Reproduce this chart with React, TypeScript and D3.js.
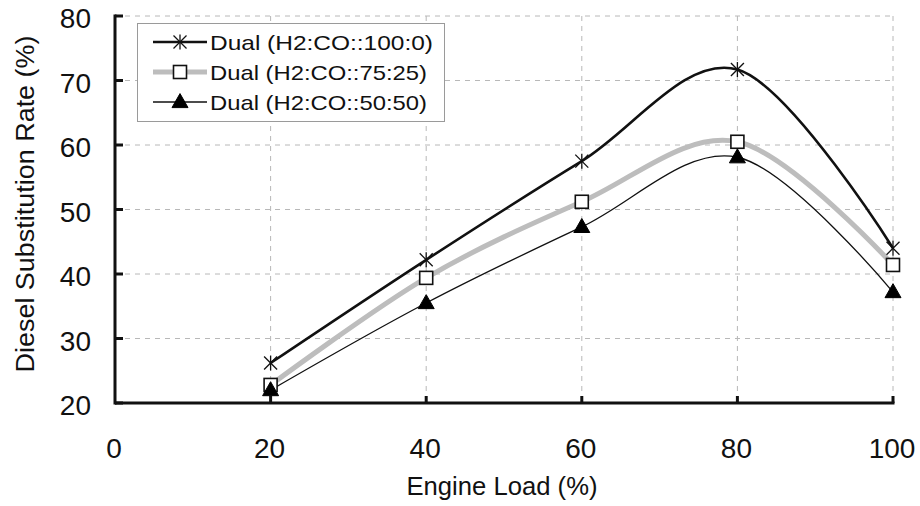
import React from 'react';
import * as d3 from 'd3';

const loads = [20, 40, 60, 80, 100];
const dual100_0 = [26.2, 42.2, 57.5, 71.7, 44.0];
const dual75_25 = [22.8, 39.4, 51.2, 60.5, 41.4];
const dual50_50 = [22.0, 35.5, 47.3, 58.1, 37.2];
const xTicks = [0, 20, 40, 60, 80, 100];
const yTicks = [20, 30, 40, 50, 60, 70, 80];
const seriesNames = ['Dual (H2:CO::100:0)', 'Dual (H2:CO::75:25)', 'Dual (H2:CO::50:50)'];
const xTitle = 'Engine Load (%)';
const yTitle = 'Diesel Substitution Rate (%)';

const W = 920;
const H = 506;
const FONT = "'Liberation Sans', Arial, Helvetica, sans-serif";

type Marker = 'star' | 'square' | 'triangle';

function MarkerShape({ kind, x, y }: { kind: Marker; x: number; y: number }) {
  if (kind === 'star') {
    const r = 6.5;
    return (
      <g stroke="#111" strokeWidth={1.3} fill="none">
        <line x1={x - r} y1={y - r} x2={x + r} y2={y + r} />
        <line x1={x - r} y1={y + r} x2={x + r} y2={y - r} />
        <line x1={x} y1={y - r - 1} x2={x} y2={y + r + 1} />
      </g>
    );
  }
  if (kind === 'square') {
    const s = 13;
    return <rect x={x - s / 2} y={y - s / 2} width={s} height={s} fill="#fff" stroke="#111" strokeWidth={1.6} />;
  }
  const w = 16;
  const h = 14;
  return (
    <path
      d={`M${x},${y - h * 0.6} L${x + w / 2},${y + h * 0.4} L${x - w / 2},${y + h * 0.4} Z`}
      fill="#000"
      stroke="#000"
      strokeWidth={1}
    />
  );
}

export default function App() {
  const x = d3.scaleLinear().domain([0, 100]).range([115, 893]);
  const y = d3.scaleLinear().domain([20, 80]).range([403, 16]);

  const series = [
    { name: seriesNames[0], values: dual100_0, color: '#111', width: 2.6, marker: 'star' as Marker },
    { name: seriesNames[1], values: dual75_25, color: '#bdbdbd', width: 5, marker: 'square' as Marker },
    { name: seriesNames[2], values: dual50_50, color: '#111', width: 1.3, marker: 'triangle' as Marker },
  ];

  const line = d3
    .line<number>()
    .x((_, i) => x(loads[i]))
    .y((d) => y(d))
    .curve(d3.curveCatmullRom.alpha(0));

  const drawOrder = [1, 0, 2];
  const legendTextLen = [223, 217, 217];

  return (
    <svg
      width={W}
      height={H}
      style={{ position: 'absolute', left: 0, top: 0, background: '#fff' }}
      fontFamily={FONT}
    >
      <rect x={0} y={0} width={W} height={H} fill="#fff" />
      {/* gridlines */}
      <g stroke="#b8b8b8" strokeWidth={1} strokeDasharray="5,5">
        {yTicks.slice(1).map((t) => (
          <line key={'gy' + t} x1={x(0)} x2={x(100)} y1={y(t)} y2={y(t)} />
        ))}
        {xTicks.slice(1).map((t) => (
          <line key={'gx' + t} x1={x(t)} x2={x(t)} y1={y(80)} y2={y(20)} />
        ))}
      </g>
      {/* axes */}
      <g stroke="#111" strokeWidth={3} fill="none">
        <line x1={x(0)} x2={x(0)} y1={y(80) - 1.5} y2={y(20) + 1.5} />
        <line x1={x(0)} x2={x(100) + 1.5} y1={y(20)} y2={y(20)} />
        {yTicks.map((t) => (
          <line key={'ty' + t} x1={x(0)} x2={x(0) + 8} y1={y(t)} y2={y(t)} />
        ))}
        {xTicks.slice(1).map((t) => (
          <line key={'tx' + t} x1={x(t)} x2={x(t)} y1={y(20)} y2={y(20) - 7} />
        ))}
      </g>
      {/* tick labels */}
      <g fontSize={28} fill="#111">
        {yTicks.map((t) => (
          <text key={'ly' + t} x={91} y={y(t) + 12} textAnchor="end">
            {t}
          </text>
        ))}
        {xTicks.map((t) => (
          <text key={'lx' + t} x={x(t) - 1} y={458} textAnchor="middle">
            {t}
          </text>
        ))}
      </g>
      {/* axis titles */}
      <text x={502} y={495} fontSize={26} textAnchor="middle" textLength={191} lengthAdjust="spacingAndGlyphs" fill="#111">
        {xTitle}
      </text>
      <text
        transform={`translate(34,204) rotate(-90)`}
        fontSize={26}
        textAnchor="middle"
        textLength={337}
        lengthAdjust="spacingAndGlyphs"
        fill="#111"
      >
        {yTitle}
      </text>
      {/* series lines */}
      {drawOrder.map((si) => {
        const s = series[si];
        return (
          <path key={'s' + si} d={line(s.values) || ''} fill="none" stroke={s.color} strokeWidth={s.width} strokeLinejoin="round" />
        );
      })}
      {/* markers */}
      {drawOrder.map((si) => {
        const s = series[si];
        return (
          <g key={'m' + si}>
            {s.values.map((v, i) => (
              <MarkerShape key={i} kind={s.marker} x={x(loads[i])} y={y(v)} />
            ))}
          </g>
        );
      })}
      {/* legend */}
      <g>
        <rect x={137.5} y={23.5} width={307} height={98} fill="#fff" stroke="#9a9a9a" strokeWidth={1} />
        {series.map((s, i) => {
          const cy = 42 + i * 30;
          return (
            <g key={'lg' + i}>
              <line x1={153} x2={207} y1={cy} y2={cy} stroke={s.color} strokeWidth={s.width} />
              <MarkerShape kind={s.marker} x={180} y={cy} />
              <text
                x={210}
                y={cy + 7.5}
                fontSize={21}
                fill="#111"
                textLength={legendTextLen[i]}
                lengthAdjust="spacingAndGlyphs"
              >
                {s.name}
              </text>
            </g>
          );
        })}
      </g>
    </svg>
  );
}
